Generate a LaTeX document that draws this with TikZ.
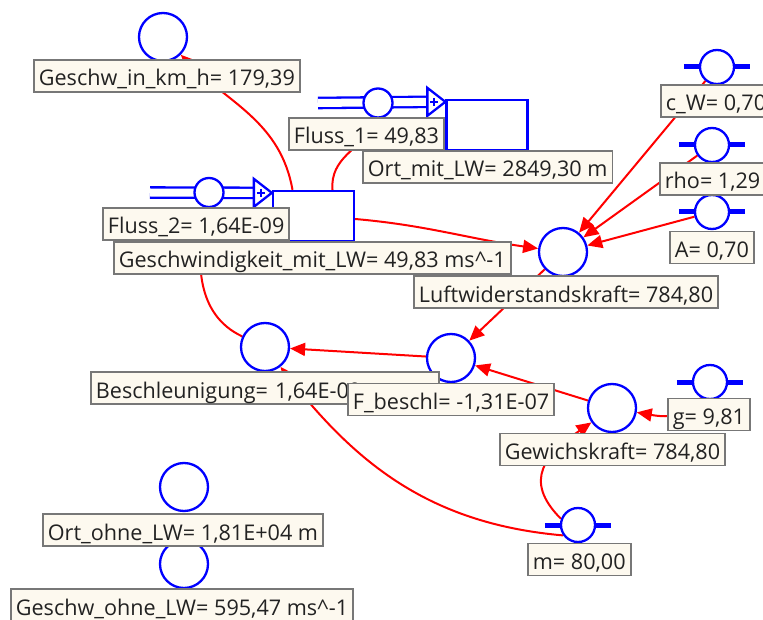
\documentclass[tikz,border=0pt]{standalone}
\usepackage{fontspec}
\newfontfamily\uifont{Open Sans}
\usetikzlibrary{arrows.meta, backgrounds}

\definecolor{labelfill}{HTML}{FDF9EF}
\definecolor{labelline}{HTML}{777777}
\definecolor{labeltext}{HTML}{222222}

\tikzset{
  aux/.style={circle, draw=blue, line width=2.3pt, fill=white, minimum size=48pt, inner sep=0pt},
  const/.style={circle, draw=blue, line width=2.3pt, fill=white, minimum size=34pt, inner sep=0pt},
  valve/.style={circle, draw=blue, line width=2.3pt, fill=white, minimum size=29pt, inner sep=0pt},
  stock/.style={rectangle, draw=blue, line width=2.3pt, fill=white, minimum width=81pt, minimum height=50pt, inner sep=0pt},
  lbl/.style={draw=labelline, fill=labelfill, line width=1.8pt, text=labeltext, anchor=west,
    inner xsep=5pt, inner ysep=0pt, minimum height=32pt, text height=20pt, text depth=0pt,
    font=\uifont\fontsize{21.6}{25}\selectfont},
  link/.style={draw=red, line width=2pt, -{Triangle[length=15pt,width=13pt]}},
  pipe/.style={draw=blue, line width=2.3pt, double=white, double distance=8pt},
  flowtip/.style={draw=blue, line width=2.3pt, fill=white, line join=miter},
  cbar/.style={draw=blue, line width=5pt},
}

\begin{document}
\begin{tikzpicture}[x=1pt, y=-1pt]
  \useasboundingbox (0,0) rectangle (763,620);
  \clip (0,0) rectangle (763,620);

  % stocks and flows
  \node[stock] (st1) at (487,125) {};
  \node[stock] (st2) at (313.5,216) {};
  \coordinate (src1) at (318,103);
  \coordinate (src2) at (150,192.5);
  \node[valve] (v1) at (378,103) {};
  \node[valve] (v2) at (209,192.5) {};
  \draw[flowtip] (st1.north west) ++(0,3) coordinate (t1) -- ++(-18,-14) -- ++(0,28) -- cycle;
  \draw[flowtip] (st2.north west) ++(0,3) coordinate (t2) -- ++(-18,-14) -- ++(0,28) -- cycle;
  \draw[blue, line width=2pt] (t1) ++(-15,0) -- ++(8,0) (t1) ++(-11,-4) -- ++(0,8);
  \draw[blue, line width=2pt] (t2) ++(-15,0) -- ++(8,0) (t2) ++(-11,-4) -- ++(0,8);

  % auxiliaries
  \node[aux] (km) at (163,37) {};
  \node[aux] (lwk) at (563,252) {};
  \node[aux] (fb) at (451,358) {};
  \node[aux] (be) at (265,347) {};
  \node[aux] (gk) at (612,408) {};
  \node[aux] (oo) at (184,487) {};
  \node[aux] (go) at (184,564) {};

  % constants
  \node[const] (cw) at (717,67) {};
  \node[const] (rho) at (712,145) {};
  \node[const] (A) at (712,212) {};
  \node[const] (g) at (710,382) {};
  \node[const] (m) at (578,525) {};

  \begin{pgfonlayer}{background}
    \draw[pipe] (src1) -- ([xshift=-18pt]t1);
    \draw[pipe] (src2) -- ([xshift=-18pt]t2);
    \foreach \c in {cw,rho,A,g,m}
      \draw[cbar] ([xshift=-15pt]\c.west) -- ([xshift=15pt]\c.east);

    % connectors
    \draw[link] ([xshift=-21pt]st2.north) to[out=100, in=-45] (km);
    \draw[link] ([xshift=19pt]st2.north) to[out=95, in=-110] (v1);
    \draw[link] ([yshift=-3pt]st2.east) to[out=-5, in=172] (lwk);
    \draw[link] (cw) -- (lwk);
    \draw[link] (rho) -- (lwk);
    \draw[link] (A) -- (lwk);
    \draw[link] (lwk) -- (fb);
    \draw[link] (gk) -- (fb);
    \draw[link] (fb) -- (be);
    \draw[link] (g) to[out=-120, in=-10] (gk);
    \draw[link] (m.160) to[out=135, in=-145, looseness=1.4] (gk);
    \draw[link] (m.215) to[out=175, in=-52] (be);
    \draw[link] (be) to[out=155, in=-100] (v2);
  \end{pgfonlayer}

  % labels
  \node[lbl] (lkm) at (33,76) {Geschw\_in\_km\_h= 179,39};
  \node[lbl] (lv1) at (288,134) {Fluss\_1= 49,83};
  \node[lbl] (lst1) at (362,167) {Ort\_mit\_LW= 2849,30 m};
  \node[lbl] (lv2) at (102,224) {Fluss\_2= 1,64E-09};
  \node[lbl] (lst2) at (113,258) {Geschwindigkeit\_mit\_LW= 49,83 ms\textasciicircum-1};
  \node[lbl] (lcw) at (660,101) {c\_W= 0,70};
  \node[lbl] (lrho) at (659,179) {rho= 1,29};
  \node[lbl] (lA) at (669,247.5) {A= 0,70};
  \node[lbl] (llwk) at (413,292) {Luftwiderstandskraft= 784,80};
  \node[lbl, text width=338pt, align=left] (lbe) at (90,388) {Beschleunigung= 1,64E-09};
  \node[lbl] (lfb) at (347,399.5) {F\_beschl= -1,31E-07};
  \node[lbl] (lgk) at (499,449.5) {Gewichskraft= 784,80};
  \node[lbl] (lg) at (667,414.5) {g= 9,81};
  \node[lbl] (lm) at (527,559.5) {m= 80,00};
  \node[lbl] (loo) at (42,530) {Ort\_ohne\_LW= 1,81E+04 m};
  \node[lbl] (lgo) at (10,605) {Geschw\_ohne\_LW= 595,47 ms\textasciicircum-1};
\end{tikzpicture}
\end{document}
